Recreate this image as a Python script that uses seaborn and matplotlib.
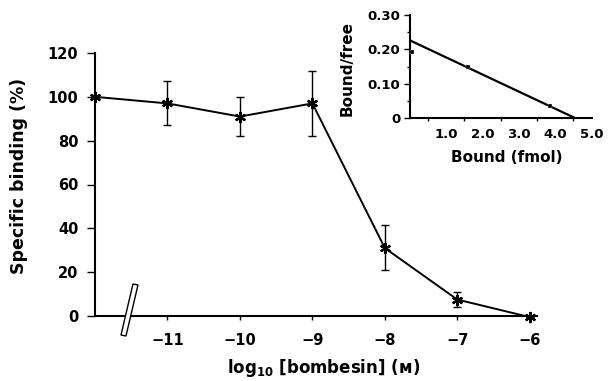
import numpy as np
import pandas as pd
import matplotlib
matplotlib.use("Agg")
import matplotlib.pyplot as plt
from matplotlib.patches import Polygon
import seaborn as sns

# ---- data ----
log_conc = [-12, -11, -10, -9, -8, -7, -6]   # -12 = control (no bombesin, axis break)
binding = [100, 97, 91, 97, 31, 7.5, -0.5]
err_low = [0, 10, 9, 15, 10, 3.5, 0]
err_high = [0, 10, 9, 15, 10.5, 3.5, 0]
x_ticks = [-11, -10, -9, -8, -7, -6]
y_ticks = [0, 20, 40, 60, 80, 100, 120]

sc_bound = [0.05, 1.6, 3.85]
sc_bf = [0.193, 0.15, 0.034]
fit_bound = [0.0, 4.55]
fit_bf = [0.226, 0.0]
in_xticks = [1.0, 2.0, 3.0, 4.0, 5.0]
in_yticks = [0, 0.10, 0.20, 0.30]
in_yticklabels = ["0", "0.10", "0.20", "0.30"]

sns.set_theme(style="ticks")
plt.rcParams['font.family'] = ['DejaVu Sans']
plt.rcParams['mathtext.fontset'] = 'dejavusans'

fig = plt.figure(figsize=(6.08, 3.81), dpi=100)
# main axes: x from 95px to 537px, y from 316px (0) to 53px (120)
ax = fig.add_axes([95 / 608, 1 - 316 / 381, 442 / 608, 263 / 381])

df = pd.DataFrame({"x": log_conc, "y": binding})
sns.lineplot(data=df, x="x", y="y", ax=ax, color="black", lw=1.4,
             marker=(6, 2, 0), markersize=8, markeredgewidth=1.6,
             markeredgecolor="black", clip_on=False, zorder=4)
ax.errorbar(log_conc, binding, yerr=[err_low, err_high], fmt="none",
            ecolor="black", elinewidth=1.0, capsize=3.2, capthick=1.0,
            clip_on=False, zorder=3)

ax.set_xlim(-12, -5.9)
ax.set_ylim(0, 120)
ax.set_xticks(x_ticks)
ax.set_xticklabels([f"\u2212{abs(v)}" for v in x_ticks])
ax.set_yticks(y_ticks)
for s in ["top", "right"]:
    ax.spines[s].set_visible(False)
for s in ["left", "bottom"]:
    ax.spines[s].set_linewidth(1.5)
    ax.spines[s].set_color("black")
ax.tick_params(axis="both", direction="out", length=6, width=1.0,
               colors="black", labelsize=10.5)
ax.tick_params(axis="y", pad=6)
ax.tick_params(axis="x", pad=9, length=3)
for lab in ax.get_xticklabels() + ax.get_yticklabels():
    lab.set_fontweight("bold")
ax.set_xlabel(r"log$_{\mathbf{10}}$ [bombesin] (ᴍ)", fontsize=12,
              fontweight="bold", color="black")
ax.xaxis.set_label_coords(0.517, -0.155)
ax.set_ylabel("Specific binding (%)", fontsize=12.5, fontweight="bold",
              color="black")
ax.yaxis.set_label_coords(-0.151, 0.532)

# axis break symbol
def px2data(px, py):
    return (-12 + (px - 95) / 72.5, (316 - py) / 2.19)
corners = [px2data(133, 284), px2data(138, 285), px2data(126, 336), px2data(121, 335)]
ax.add_patch(Polygon(corners, closed=True, facecolor="white", edgecolor="black",
                     lw=1.0, clip_on=False, zorder=5))

# ---- inset ----
ax2 = fig.add_axes([410 / 608, 1 - 118 / 381, 182 / 608, 103 / 381])
ax2.set_facecolor("none")
sns.lineplot(x=fit_bound, y=fit_bf, ax=ax2, color="black", lw=1.6, clip_on=False)
sns.scatterplot(x=sc_bound, y=sc_bf, ax=ax2, color="black", s=6, marker="s",
                clip_on=False, zorder=4)
ax2.set_xlim(0, 5.02)
ax2.set_ylim(0, 0.30)
ax2.set_xticks(in_xticks)
ax2.set_xticklabels([f"{v:.1f}" for v in in_xticks])
ax2.set_xticks([0.5, 1.5, 2.5, 3.5, 4.5], minor=True)
ax2.set_yticks(in_yticks)
ax2.set_yticklabels(in_yticklabels)
ax2.set_yticks([0.05, 0.15, 0.25], minor=True)
for s in ["top", "right"]:
    ax2.spines[s].set_visible(False)
for s in ["left", "bottom"]:
    ax2.spines[s].set_linewidth(1.5)
    ax2.spines[s].set_color("black")
ax2.tick_params(axis="both", which="major", direction="out", length=4, width=1.0,
                colors="black", labelsize=9.5)
ax2.tick_params(axis="both", which="minor", direction="out", length=2.5, width=1.0,
                colors="black")
ax2.tick_params(axis="y", which="major", pad=3)
ax2.tick_params(axis="x", which="major", length=0, pad=7)
for lab in ax2.get_xticklabels() + ax2.get_yticklabels():
    lab.set_fontweight("bold")
ax2.set_xlabel("Bound (fmol)", fontsize=11, fontweight="bold", color="black")
ax2.xaxis.set_label_coords(0.533, -0.31)
ax2.set_ylabel("Bound/free", fontsize=11, fontweight="bold", color="black")
ax2.yaxis.set_label_coords(-0.302, 0.485)

fig.savefig("out.png", dpi=100, facecolor="white")
